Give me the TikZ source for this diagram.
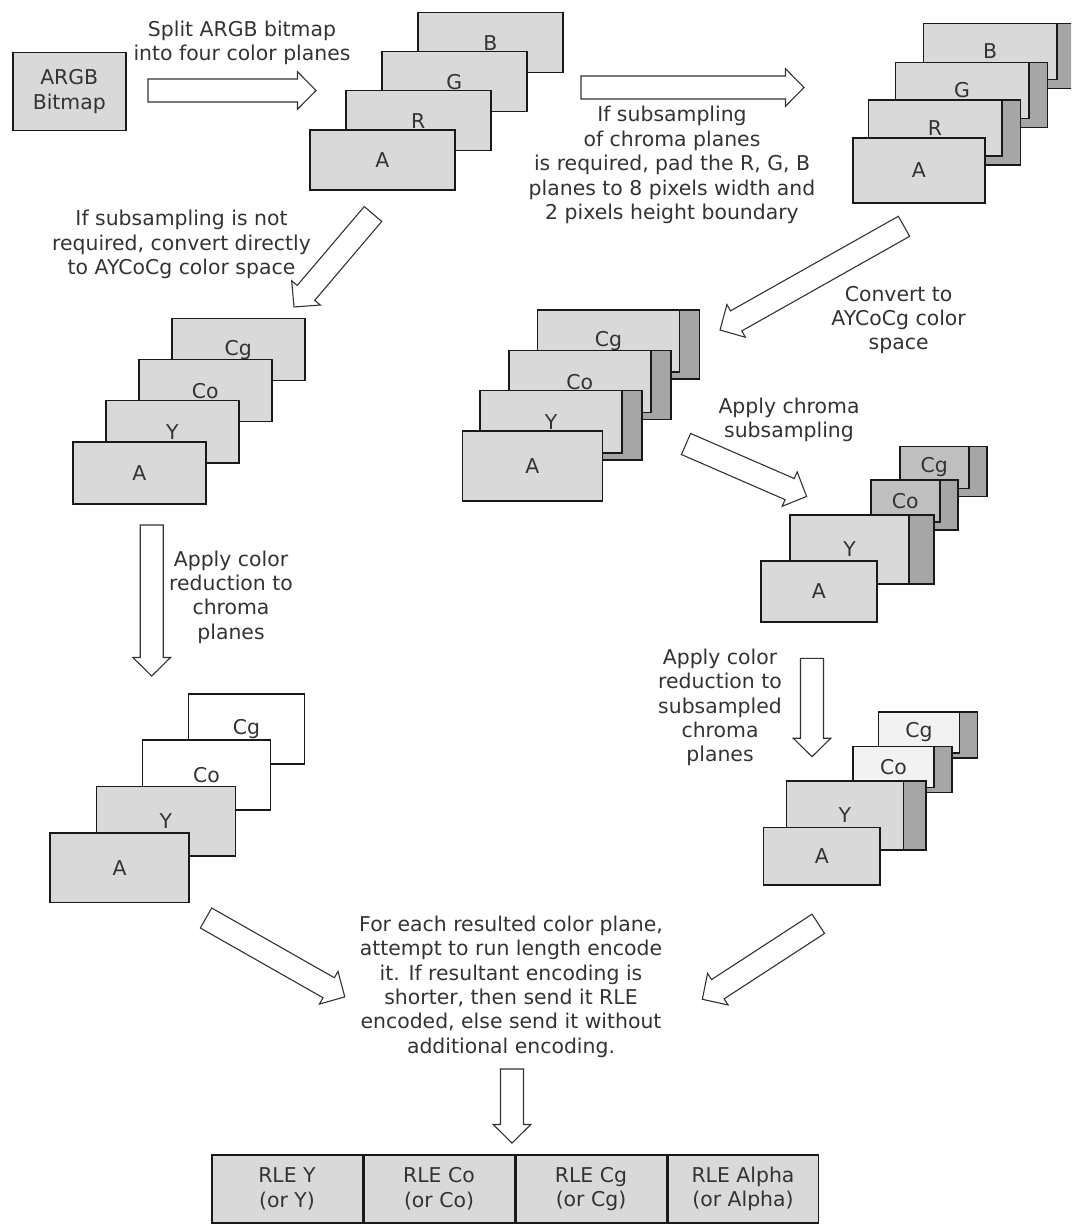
\documentclass[tikz,border=0pt]{standalone}
\usepackage{fontspec}
\setmainfont{DejaVu Sans}
\usetikzlibrary{positioning}

\definecolor{planegray}{HTML}{D9D9D9}
\definecolor{padgray}{HTML}{A6A6A6}
\definecolor{subgray}{HTML}{BFBFBF}
\definecolor{reducedgray}{HTML}{F2F2F2}

% hollow block arrow from one named coordinate to another
\newcommand{\planearrow}[2]{%
  \pgfmathanglebetweenpoints{\pgfpointanchor{#1}{center}}{\pgfpointanchor{#2}{center}}%
  \let\arrowangle\pgfmathresult
  \pgfpointdiff{\pgfpointanchor{#1}{center}}{\pgfpointanchor{#2}{center}}%
  \pgfgetlastxy{\arrowdx}{\arrowdy}%
  \pgfmathsetmacro{\arrowlen}{veclen(\arrowdx,\arrowdy)}%
  \draw[bigarrow, shift={(#1)}, rotate=\arrowangle, x=1pt, y=1pt]
    (0,-5.75) -- ({\arrowlen-9.25},-5.75) -- ({\arrowlen-9.25},-9.4) -- (\arrowlen,0)
    -- ({\arrowlen-9.25},9.4) -- ({\arrowlen-9.25},5.75) -- (0,5.75) -- cycle;}

\begin{document}
\begin{tikzpicture}[x=0.5pt, y=-0.5pt,
  every node/.style={font=\fontsize{10.2pt}{12.2pt}\selectfont, text=black!80},
  plane/.style={draw=black!90, line width=0.75pt, fill=planegray, anchor=north west, inner sep=0pt},
  pad/.style={plane, fill=padgray},
  note/.style={align=center},
  cell/.style={plane, align=center, minimum width=75.25pt, minimum height=34pt},
  bigarrow/.style={draw=black!80, line width=0.55pt, fill=white}]
\clip (0,0) rectangle (1071,1224);

% source bitmap and split
\node[plane, align=center, minimum width=56.5pt, minimum height=39pt] (bitmap) at (12,52) {ARGB\\Bitmap};
\node[note] (splitnote) at (242,43) {Split ARGB bitmap\\into four color planes};
\coordinate (split-from) at (148,90.5);
\coordinate (split-to) at (316,90.5);
\planearrow{split-from}{split-to}

\foreach \lbl/\x/\y in {B/417/12, G/381/51, R/345/90, A/309/129.5}
  \node[plane, minimum width=72.5pt, minimum height=30pt] (split\lbl) at (\x,\y) {\lbl};

% padding of R, G, B
\node[note] (padnote) at (672,165) {If subsampling\\of chroma planes\\is required, pad the R, G, B\\planes to 8 pixels width and\\2 pixels height boundary};
\coordinate (pad-from) at (581,87.5);
\coordinate (pad-to) at (804,87.5);
\planearrow{pad-from}{pad-to}

\foreach \lbl/\x/\y in {B/922.7/22.7, G/894.5/61.7, R/867.5/99.3} {
  \node[pad, minimum width=76pt, minimum height=32.5pt] (pad\lbl-edge) at (\x,\y) {};
  \node[plane, minimum width=66.75pt, minimum height=28pt] (pad\lbl) at (\x,\y) {\lbl};
}
\node[plane, minimum width=66pt, minimum height=32.5pt] (padA) at (852,137.3) {A};

% direct conversion
\node[note] (directnote) at (181.5,244.5) {If subsampling is not\\required, convert directly\\to AYCoCg color space};
\coordinate (direct-from) at (373,214);
\coordinate (direct-to) at (294,307);
\planearrow{direct-from}{direct-to}

\foreach \lbl/\x/\y in {Cg/171/318, Co/138/359, Y/105/400, A/72/441}
  \node[plane, minimum width=66.5pt, minimum height=31pt] (direct\lbl) at (\x,\y) {\lbl};

% conversion of padded planes
\node[note] (convertnote) at (898.6,320) {Convert to\\AYCoCg color\\space};
\coordinate (convert-from) at (904,226.3);
\coordinate (convert-to) at (720,330);
\planearrow{convert-from}{convert-to}

\foreach \lbl/\x/\y in {Cg/536.7/309.3, Co/508/350, Y/479.3/390} {
  \node[pad, minimum width=81pt, minimum height=34.5pt] (conv\lbl-edge) at (\x,\y) {};
  \node[plane, minimum width=71pt, minimum height=31pt] (conv\lbl) at (\x,\y) {\lbl};
}
\node[plane, minimum width=70pt, minimum height=35pt] (convA) at (461.7,430) {A};

% colour reduction, no subsampling
\node[note] (reducenote) at (231,597) {Apply color\\reduction to\\chroma\\planes};
\coordinate (reduce-from) at (151.7,525);
\coordinate (reduce-to) at (151.7,676);
\planearrow{reduce-from}{reduce-to}

\node[plane, fill=white, minimum width=58pt, minimum height=35pt] (redCg) at (187.7,693.3) {Cg};
\node[plane, fill=white, minimum width=64pt, minimum height=35pt] (redCo) at (141.7,739.3) {Co};
\node[plane, minimum width=69.5pt, minimum height=34.75pt] (redY) at (95.7,785.7) {Y};
\node[plane, minimum width=69.5pt, minimum height=34.75pt] (redA) at (49.3,832.3) {A};

% chroma subsampling
\node[note] (chromanote) at (789,420) {Apply chroma\\subsampling};
\coordinate (chroma-from) at (686,444);
\coordinate (chroma-to) at (806.7,496.5);
\planearrow{chroma-from}{chroma-to}

\foreach \lbl/\x/\y in {Cg/899/445.7, Co/870/479} {
  \node[pad, minimum width=43.5pt, minimum height=25pt] (sub\lbl-edge) at (\x,\y) {};
  \node[plane, fill=subgray, minimum width=34.5pt, minimum height=21pt] (sub\lbl) at (\x,\y) {\lbl};
}
\node[pad, minimum width=72pt, minimum height=34.65pt] (subY-edge) at (789.3,514) {};
\node[plane, minimum width=59.5pt, minimum height=34.65pt] (subY) at (789.3,514) {Y};
\node[plane, minimum width=58pt, minimum height=30.5pt] (subA) at (760,560) {A};

% colour reduction of subsampled planes
\node[note] (subreducenote) at (720,707.5) {Apply color\\reduction to\\subsampled\\chroma\\planes};
\coordinate (subreduce-from) at (812,658.3);
\coordinate (subreduce-to) at (812,756.7);
\planearrow{subreduce-from}{subreduce-to}

\foreach \lbl/\x/\y in {Cg/877.7/711, Co/852.3/745.7} {
  \node[pad, minimum width=49.5pt, minimum height=23pt] (sred\lbl-edge) at (\x,\y) {};
  \node[plane, fill=reducedgray, minimum width=40.5pt, minimum height=20.5pt] (sred\lbl) at (\x,\y) {\lbl};
}
\node[pad, minimum width=69.65pt, minimum height=34.65pt] (sredY-edge) at (785.7,780) {};
\node[plane, minimum width=58.5pt, minimum height=34.65pt] (sredY) at (785.7,780) {Y};
\node[plane, minimum width=58.35pt, minimum height=28.85pt] (sredA) at (762.7,826.7) {A};

% run length encoding
\node[note] (rlenote) at (511,986.7) {For each resulted color plane,\\attempt to run length encode\\it. If resultant encoding is\\shorter, then send it RLE\\encoded, else send it without\\additional encoding.};
\coordinate (left-from) at (206,918);
\coordinate (left-to) at (345,997);
\planearrow{left-from}{left-to}
\coordinate (right-from) at (818.3,923.8);
\coordinate (right-to) at (702.3,999.3);
\planearrow{right-from}{right-to}
\coordinate (rle-from) at (512,1069);
\coordinate (rle-to) at (512,1143);
\planearrow{rle-from}{rle-to}

\node[cell] (rleY) at (211,1154) {RLE Y\\(or Y)};
\node[cell, right=0pt of rleY] (rleCo) {RLE Co\\(or Co)};
\node[cell, right=0pt of rleCo] (rleCg) {RLE Cg\\(or Cg)};
\node[cell, right=0pt of rleCg] (rleAlpha) {RLE Alpha\\(or Alpha)};
\end{tikzpicture}
\end{document}
